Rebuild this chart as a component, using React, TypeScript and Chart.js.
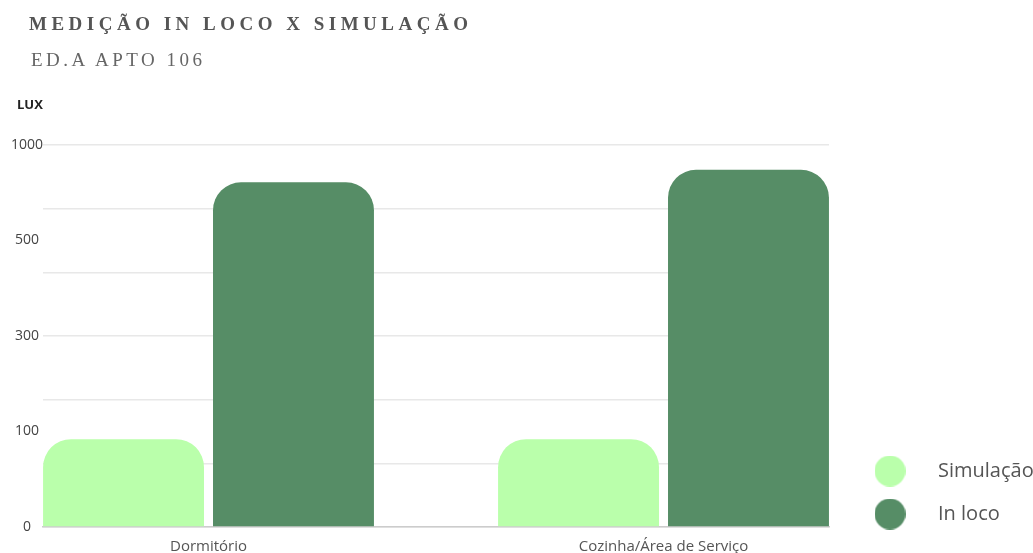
import React, { useEffect, useRef } from 'react';
import { Chart, registerables, LinearScale } from 'chart.js';

Chart.register(...registerables);

// ---- data ----
const categories = ['Dormitório', 'Cozinha/Área de Serviço'];
const seriesNames = ['Simulação', 'In loco'];
const simulacao = [92, 92];
const inLoco = [805, 870];
const yTickValues = [0, 100, 300, 500, 1000];
const yTickLabels = ['0', '100', '300', '500', '1000'];

const seriesColors = ['#baffab', '#568d66'];
const lastPos = yTickValues.length - 1;
const gridDivisions = 6;

function toPos(v: number): number {
  for (let i = 0; i < lastPos; i++) {
    const a = yTickValues[i];
    const b = yTickValues[i + 1];
    if (v <= b || i === lastPos - 1) return i + (v - a) / (b - a);
  }
  return lastPos;
}
function fromPos(p: number): number {
  const i = Math.max(0, Math.min(lastPos - 1, Math.floor(p)));
  const a = yTickValues[i];
  const b = yTickValues[i + 1];
  return a + (p - i) * (b - a);
}
const near = (a: number, b: number) => Math.abs(a - b) < 1e-6;

class PiecewiseScale extends LinearScale {
  static id = 'piecewise';
  static defaults = {};
  buildTicks() {
    const pos: number[] = [];
    for (let k = 0; k <= gridDivisions; k++) pos.push((k * lastPos) / gridDivisions);
    for (let i = 0; i <= lastPos; i++) pos.push(i);
    pos.sort((a, b) => a - b);
    const uniq = pos.filter((p, i) => i === 0 || !near(p, pos[i - 1]));
    return uniq.map((p) => ({ value: fromPos(p) }));
  }
  getPixelForValue(value: number) {
    if (value === null || value === undefined || isNaN(value)) return NaN;
    return this.getPixelForDecimal(toPos(value) / lastPos);
  }
  getValueForPixel(pixel: number) {
    return fromPos(this.getDecimalForPixel(pixel) * lastPos);
  }
}
Chart.register(PiecewiseScale as any);

function makeDot(color: string, size: number) {
  const c = document.createElement('canvas');
  c.width = size;
  c.height = size;
  const ctx = c.getContext('2d')!;
  ctx.fillStyle = color;
  ctx.beginPath();
  ctx.arc(size / 2, size / 2, size / 2, 0, Math.PI * 2);
  ctx.fill();
  return c;
}

const extendXLabelArea = {
  id: 'extendXLabelArea',
  afterLayout(chart: any) {
    const x = chart.scales.x;
    if (x) x.bottom = chart.height;
  },
};

export default function App() {
  const ref = useRef<HTMLCanvasElement>(null);
  useEffect(() => {
    const dots = seriesColors.map((c) => makeDot(c, 31));
    const sideFrac = 0.3637;
    const chart = new Chart(ref.current!, {
      type: 'bar',
      data: {
        datasets: [simulacao, inLoco].map((vals, s) => ({
          label: seriesNames[s],
          data: categories.map((_, i) => ({ x: i, y: vals[i] })),
          backgroundColor: seriesColors[s],
          borderRadius: 28,
          borderSkipped: 'bottom',
          categoryPercentage: 0.747,
          barPercentage: 0.947,
        })),
      },
      plugins: [extendXLabelArea],
      options: {
        responsive: false,
        animation: false,
        layout: { padding: { top: 145, left: 11, right: 0, bottom: 6 } },
        scales: {
          x: {
            type: 'linear',
            offset: false,
            min: -sideFrac,
            max: categories.length - 1 + sideFrac,
            grid: { display: false, drawTicks: false, offset: false },
            border: { display: true, color: '#cccccc', width: 1.5 },
            afterBuildTicks: (scale: any) => {
              scale.ticks = categories.map((_, i) => ({ value: i }));
            },
            afterFit: (scale: any) => {
              scale.height = 20;
            },
            ticks: {
              autoSkip: false,
              maxRotation: 0,
              padding: 12,
              color: '#555555',
              font: { family: 'Open Sans', size: 15, lineHeight: 1 },
              callback: (v: any) => categories[Math.round(Number(v))] ?? '',
            },
          },
          y: {
            type: 'piecewise' as any,
            min: yTickValues[0],
            max: yTickValues[lastPos],
            border: { display: false },
            grid: {
              drawTicks: false,
              lineWidth: 1.6,
              color: (ctx: any) => {
                const p = toPos(ctx.tick.value) * gridDivisions / lastPos;
                return near(p, Math.round(p)) ? '#e8e8e8' : 'rgba(0,0,0,0)';
              },
            },
            ticks: {
              autoSkip: false,
              padding: 0,
              crossAlign: 'center',
              color: '#444444',
              font: { family: 'Open Sans', size: 14 },
              callback: (v: any) => {
                const i = yTickValues.findIndex((t) => near(t, Number(v)));
                return i >= 0 ? yTickLabels[i] : '';
              },
            },
          },
        },
        plugins: {
          tooltip: { enabled: false },
          legend: {
            position: 'right',
            align: 'end',
            maxWidth: 204,
            labels: {
              usePointStyle: true,
              pointStyleWidth: 76,
              padding: 23,
              color: '#555555',
              font: { family: 'Open Sans', size: 20 },
              generateLabels: (ch: any) => {
                const items = (Chart as any).defaults.plugins.legend.labels.generateLabels(ch);
                return items.map((it: any, i: number) => ({ ...it, pointStyle: dots[i] }));
              },
            },
          },
        },
      } as any,
    });
    return () => chart.destroy();
  }, []);

  return (
    <div style={{ position: 'absolute', left: 0, top: 0, width: 1033, height: 553, background: '#fff' }}>
      <canvas ref={ref} width={1033} height={553} style={{ position: 'absolute', left: 0, top: 0, width: 1033, height: 553 }} />
      <div style={{ position: 'absolute', left: 29, top: 14, font: 'bold 19px "Liberation Serif", serif', lineHeight: '19px', letterSpacing: '4.5px', color: '#555', whiteSpace: 'nowrap' }}>
        MEDIÇÃO IN LOCO X SIMULAÇÃO
      </div>
      <div style={{ position: 'absolute', left: 31, top: 50, font: '19px "Liberation Serif", serif', lineHeight: '19px', letterSpacing: '3.5px', color: '#666', whiteSpace: 'nowrap' }}>
        ED.A APTO 106
      </div>
      <div style={{ position: 'absolute', left: 17, top: 98, font: 'bold 13px "Open Sans", sans-serif', lineHeight: '13px', color: '#222', whiteSpace: 'nowrap' }}>
        LUX
      </div>
    </div>
  );
}
